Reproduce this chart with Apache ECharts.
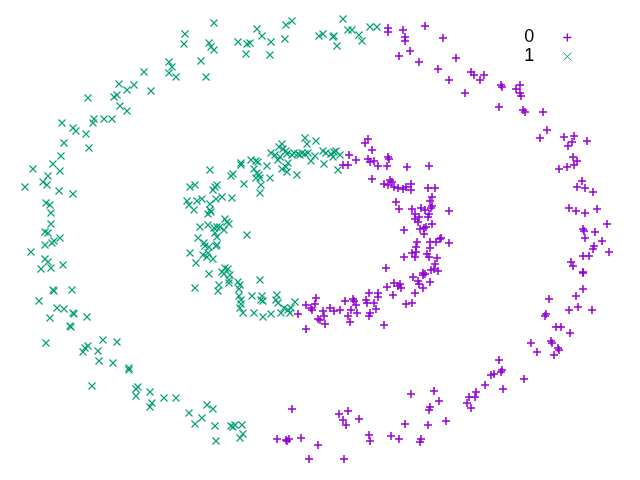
<!DOCTYPE html>
<html>
<head>
<meta charset="utf-8">
<script src="https://cdn.jsdelivr.net/npm/echarts@6/dist/echarts.min.js"></script>
<style>
html,body{margin:0;padding:0;background:#fff;}
#chart{width:640px;height:480px;}
</style>
</head>
<body>
<div id="chart"></div>
<script>
// Legend labels
const classNames = ['0', '1'];

// Class "0" points (x, y) (y grows downward)
const class0 = [
[388,28],[388,32],[403,30],[405,37],[405,41],[410,51],[399,56],[419,62],
[425,26],[443,38],[456,58],[438,69],[449,80],[471,72],[474,75],[480,80],[484,75],[465,93],[501,85],[502,87],[520,85],[516,89],[520,93],[521,96],[499,107],[523,110],[525,112],[543,112],[547,130],[540,138],[564,137],[574,136],[572,142],[587,141],[568,146],[573,157],[577,161],[574,165],[567,167],[559,169],
[582,181],[577,187],[585,188],[593,192],[569,208],[576,211],[585,213],[597,209],[607,224],[583,229],[584,231],[595,232],[585,238],[602,241],[594,246],[593,249],[609,252],[583,256],[589,256],[571,262],[573,266],[583,272],[583,273],[583,289],[576,296],[549,299],[569,310],[578,307],[592,310],[546,314],[545,316],[556,327],[561,327],
[570,333],[531,343],[551,341],[552,343],[537,352],[558,348],[559,350],[554,355],[499,360],[524,379],[502,370],[501,372],[491,375],[494,374],[485,385],[503,389],[476,392],[469,397],[475,397],[467,403],[471,408],[434,391],[439,401],[430,407],[429,410],[446,421],[428,425],[421,439],[420,442],
[411,394],[292,409],[339,414],[348,411],[343,420],[346,425],[359,419],[405,424],[277,439],[286,440],[287,441],[289,439],[301,438],[318,445],[369,435],[370,441],[391,436],[399,439],[309,459],[344,459],
[349,155],[343,165],[348,165],[356,160],[368,139],[365,143],[372,150],[368,159],[370,162],[374,161],[372,179],
[378,166],[388,157],[389,159],[387,166],[407,167],[429,166],[390,180],[392,182],[384,184],[388,185],[394,187],[398,188],[403,189],[406,187],[411,184],[411,190],[428,188],[435,188],[432,197],[396,202],[399,209],[412,209],[421,208],[425,210],[430,201],[432,206],[431,208],[449,211],[415,214],[415,219],[419,217],[418,222],[429,214],[428,217],[404,230],[420,229],[424,228],[426,227],[432,224],[424,234],[417,242],[416,247],[430,242],[436,242],[440,239],[441,238],[449,243],[430,248],[404,257],[412,253],[416,252],[415,257],[427,254],[429,257],[437,258],[435,264],[431,270],[434,269],[438,271],[386,268],[423,273],[425,274],[423,275],[413,277],[418,281],[419,284],[430,282],[423,288],[387,287],[394,283],[398,286],[400,284],[401,288],[415,293],[378,293],[378,297],[374,303],[376,309],[370,313],[369,293],[393,295],[406,304],[412,303],[384,325],
[316,298],[315,304],[311,308],[312,310],[306,305],[298,314],[323,311],[324,316],[318,319],[320,320],[325,324],[306,329],[330,308],[334,311],[340,310],[345,301],[353,299],[354,301],[356,305],[351,310],[357,313],[348,316],[350,322],[366,300],[367,303],[369,316]
];

// Class "1" points (x, y) (y grows downward)
const class1 = [
[214,23],[185,34],[184,44],[209,43],[211,47],[214,50],[201,61],[169,62],[172,67],[169,73],[176,77],[206,77],[144,72],[151,91],[119,84],[127,90],[134,85],[114,97],[117,95],[88,98],[120,106],[127,111],[94,119],[93,123],[104,119],[112,119],[62,123],[73,128],[76,131],[86,134],[64,143],[89,148],[61,156],[53,164],[33,169],
[238,42],[247,44],[250,43],[257,29],[262,36],[271,42],[246,54],[270,55],[286,25],[292,21],[285,39],[319,36],[323,34],[334,36],[333,37],[337,46],[343,19],[348,30],[352,30],[359,35],[362,41],[370,27],[377,27],
[60,171],[48,176],[43,182],[47,185],[25,187],[59,191],[73,194],[46,203],[50,205],[51,213],[51,224],[45,232],[48,233],[60,238],[54,241],[52,243],[45,245],[31,252],[45,259],[48,262],[41,269],[51,268],[63,265],[53,290],[54,291],[72,290],[39,301],[57,308],[64,309],[73,313],[74,314],[87,317],[50,318],[70,326],[71,327],
[46,343],[103,340],[117,342],[88,346],[85,348],[83,352],[98,351],[99,361],[113,363],[129,368],[129,370],[92,386],[138,387],[136,389],[136,396],[150,392],[152,403],[150,407],[164,398],[176,398],[189,413],[202,418],[195,424],[207,405],[213,409],[215,426],[216,441],[231,426],[233,427],[235,425],[242,425],[240,438],[243,434],
[282,144],[279,147],[283,149],[286,151],[271,153],[275,155],[280,157],[278,160],[287,154],[288,163],[286,167],[282,169],[251,160],[256,161],[258,162],[241,163],[241,165],[267,166],[254,169],[257,173],[259,175],[256,178],[260,178],[270,178],[210,170],[233,174],[231,176],[244,184],[261,185],[260,193],[190,187],[195,185],[217,185],[215,187],[213,190],[187,201],[189,205],[194,210],[197,201],[202,199],[210,204],[216,199],[222,197],[232,198],[210,210],[211,212],[208,214],[225,219],[227,222],[229,224],[200,227],[208,225],[214,228],[217,227],[220,227],[224,230],[215,233],[217,237],[247,235],[198,238],[204,243],[205,246],[216,246],[217,245],[209,247],[190,253],[203,255],[208,253],[207,257],[213,259],[196,263],[209,274],[222,272],[225,268],[228,269],[224,274],[230,275],[229,280],[229,283],[219,285],[218,291],[238,282],[240,285],[239,289],[260,280],[195,288],[239,296],[241,300],[252,296],[262,296],[263,301],[261,300],[277,295],[276,300],[278,303],[241,304],[240,308],[243,313],[254,313],[263,317],[271,314],[281,313],[284,308],
[305,138],[307,144],[316,141],[292,155],[294,153],[298,154],[300,155],[302,153],[305,154],[308,153],[311,161],[315,156],[323,151],[326,153],[324,164],[331,154],[334,152],[336,151],[333,157],[340,155],[338,170],[287,172],[297,175],
[295,302],[291,308],[290,313],[288,310]
];

const PLUS = 'path://M5,0L5,10M0,5L10,5';
const CROSS = 'path://M0,0L10,10M10,0L0,10';
const COLORS = ['#9400d3', '#009e73'];

const chart = echarts.init(document.getElementById('chart'), null, {renderer: 'canvas'});
chart.setOption({
  animation: false,
  backgroundColor: '#ffffff',
  grid: {left: 0, right: 0, top: 0, bottom: 0},
  xAxis: {type: 'value', min: 0, max: 640, show: false},
  yAxis: {type: 'value', min: 0, max: 480, inverse: true, show: false},
  legend: {
    orient: 'vertical',
    right: 63,
    top: 23,
    align: 'right',
    itemWidth: 8,
    itemHeight: 8,
    itemGap: 0,
    textStyle: {
      fontFamily: 'Liberation Sans, Arial, sans-serif',
      fontSize: 18,
      color: '#000',
      lineHeight: 19,
      padding: [0, 24, 0, 0]
    },
    data: [
      {name: classNames[0], itemStyle: {color: 'rgba(0,0,0,0)', borderColor: COLORS[0], borderWidth: 1.3}},
      {name: classNames[1], itemStyle: {color: 'rgba(0,0,0,0)', borderColor: COLORS[1], borderWidth: 1}}
    ]
  },
  series: [
    {
      name: classNames[0],
      type: 'scatter',
      data: class0,
      symbol: PLUS,
      symbolSize: 8,
      itemStyle: {color: 'rgba(0,0,0,0)', borderColor: COLORS[0], borderWidth: 1.5, opacity: 1}
    },
    {
      name: classNames[1],
      type: 'scatter',
      data: class1,
      symbol: CROSS,
      symbolSize: 7,
      itemStyle: {color: 'rgba(0,0,0,0)', borderColor: COLORS[1], borderWidth: 1.1, opacity: 1}
    }
  ]
});
</script>
</body>
</html>
